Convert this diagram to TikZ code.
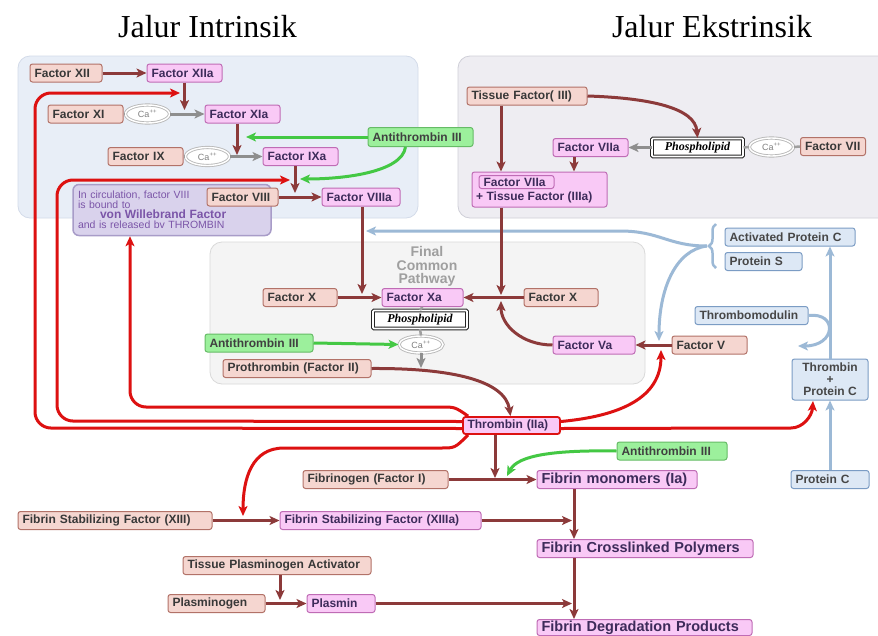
\documentclass[tikz,border=0pt]{standalone}
\usepackage{fontspec}
\setmainfont{Liberation Sans}
\newfontfamily\titlefont{Liberation Serif}
\usetikzlibrary{arrows.meta,shapes.geometric,decorations.pathreplacing,calc}
\definecolor{dred}{HTML}{8C3A3A}
\definecolor{inFill}{HTML}{F5D6D0}
\definecolor{inDraw}{HTML}{B27268}
\definecolor{acFill}{HTML}{F9C9F6}
\definecolor{acDraw}{HTML}{BF6CB5}
\definecolor{acText}{HTML}{3D2B5A}
\definecolor{rline}{HTML}{DD1111}
\definecolor{gline}{HTML}{44C844}
\definecolor{gFill}{HTML}{9CF09C}
\definecolor{gDraw}{HTML}{66BB66}
\definecolor{bline}{HTML}{9CB9D6}
\definecolor{bFill}{HTML}{DDE8F5}
\definecolor{bDraw}{HTML}{7B9CC4}
\definecolor{gyline}{HTML}{8E8E8E}
\definecolor{panA}{HTML}{E8EEF7}
\definecolor{panAd}{HTML}{D3DBE9}
\definecolor{panB}{HTML}{EEEDF2}
\definecolor{panBd}{HTML}{CFCFD8}
\definecolor{panC}{HTML}{F4F4F4}
\definecolor{panCd}{HTML}{D9D9D9}
\definecolor{vwfFill}{HTML}{D9D2EC}
\definecolor{vwfDraw}{HTML}{A89CC8}
\definecolor{vwfText}{HTML}{7B55A8}
\tikzset{
  bw/.code={\pgfmathsetmacro\bwtmp{#1-9}\edef\bwnext{\noexpand\pgfkeysalso{minimum width=#1pt,text width=\bwtmp pt}}\bwnext},
  box/.style={rounded corners=2.5pt, line width=1pt, inner xsep=4.5pt, inner ysep=1pt, minimum height=18pt, align=left,
    font=\fontsize{12}{13}\selectfont\bfseries, text=black!78},
  inact/.style={box, fill=inFill, draw=inDraw},
  act/.style={box, fill=acFill, draw=acDraw, text=acText},
  anti/.style={box, fill=gFill, draw=gDraw, text=black!75},
  prot/.style={box, fill=bFill, draw=bDraw, text=black!72},
  big/.style={font=\fontsize{14.5}{15}\selectfont\bfseries},
  ca/.style={ellipse, draw=gray!55, line width=0.9pt, double=white, double distance=1.4pt, fill=white,
    minimum width=44pt, minimum height=18pt, inner sep=0pt, font=\fontsize{9}{9}\selectfont, text=gray},
  phos/.style={draw=black!85, double=white, double distance=1.6pt, line width=1pt, fill=white, rounded corners=1pt,
    minimum height=18pt, inner sep=1pt, font=\titlefont\fontsize{12}{12}\selectfont\bfseries\itshape},
  tip/.style={-{Stealth[length=10pt,width=9pt,inset=2.5pt]}},
  da/.style={draw=dred, line width=3pt, tip},
  ra/.style={draw=rline, line width=3pt, tip, rounded corners=16pt},
  ga/.style={draw=gline, line width=3pt, tip},
  ba/.style={draw=bline, line width=3pt, tip},
  gya/.style={draw=gyline, line width=3pt, tip},
  gyl/.style={draw=gyline!85, line width=2.5pt},
}
\begin{document}
\begin{tikzpicture}[x=1pt,y=-1pt]
\useasboundingbox (0,0) rectangle (878,635);
\fill[white] (0,0) rectangle (878,635);
% panels
\draw[fill=panA, draw=panAd, line width=0.8pt, rounded corners=12pt] (18,56) rectangle (418,218);
\draw[fill=panB, draw=panBd, line width=0.8pt, rounded corners=12pt] (458,56) rectangle (892,218);
\draw[fill=panC, draw=panCd, line width=0.8pt, rounded corners=12pt] (210,242) rectangle (645,384);
% titles
\node[font=\titlefont\fontsize{32}{34}\selectfont] (t1) at (207.5,27) {Jalur Intrinsik};
\node[font=\titlefont\fontsize{32}{34}\selectfont] (t2) at (712,27) {Jalur Ekstrinsik};
\node[font=\fontsize{14}{13.5}\selectfont\bfseries, text=gray!75, align=center] (fcpt) at (427,266.5) {Final\\Common\\Pathway};
% intrinsic nodes
\node[inact, bw=72] (xii) at (66,73) {Factor XII};
\node[act, bw=75] (xiia) at (184.5,73) {Factor XIIa};
\node[inact, bw=75] (xi) at (85.5,114) {Factor XI};
\node[ca] (ca1) at (147.5,114) {Ca\textsuperscript{++}};
\node[act, bw=75] (xia) at (242.5,114) {Factor XIa};
\node[anti, bw=105, minimum height=19pt] (at3a) at (420.5,137) {Antithrombin III};
\node[inact, bw=75] (ix) at (145.5,156.5) {Factor IX};
\node[ca] (ca2) at (207.5,156.5) {Ca\textsuperscript{++}};
\node[act, bw=75] (ixa) at (300.5,156.5) {Factor IXa};
\node[rounded corners=6pt, fill=vwfFill, draw=vwfDraw, line width=1.5pt, text width=188pt, align=left,
  minimum height=51pt, inner xsep=5pt, inner ysep=2pt, font=\fontsize{10.5}{10}\selectfont, text=vwfText] (vwf) at (172,210)
  {In circulation, factor VIII\\is bound to\\\hspace*{22pt}{\fontsize{12}{13}\selectfont\bfseries von Willebrand Factor}\\and is released bv THROMBIN};
\node[inact, bw=71] (viii) at (242.5,197) {Factor VIII};
\node[act, bw=78] (viiia) at (361,197) {Factor VIIIa};
% extrinsic nodes
\node[inact, bw=120] (tf) at (527,96) {Tissue Factor( III)};
\node[phos, minimum width=91pt] (ph1) at (697.5,147.5) {Phospholipid};
\node[ca] (ca3) at (771.5,147) {Ca\textsuperscript{++}};
\node[inact, bw=65] (fvii) at (833,146.5) {Factor VII};
\node[act, bw=75] (viia) at (590.5,147.5) {Factor VIIa};
\node[act, minimum width=135pt, minimum height=35pt] (cx) at (539.5,189.5) {};
\node[act, bw=75, minimum height=13pt, inner ysep=0pt] (cxin) at (516.5,182) {Factor VIIa};
\node[font=\fontsize{12}{13}\selectfont\bfseries, text=acText, anchor=west, inner sep=0pt] (cxt) at (476,197.5) {+ Tissue Factor (IIIa)};
% protein C system
\node[prot, bw=130] (apc) at (790,237) {Activated Protein C};
\node[prot, bw=77] (ps) at (763.5,261.5) {Protein S};
\node[prot, bw=113] (tm) at (751.5,315.5) {Thrombomodulin};
\node[inact, bw=75] (fv) at (709.5,345) {Factor V};
\node[prot, minimum width=76pt, minimum height=41pt, align=center, font=\fontsize{12}{12}\selectfont\bfseries] (tpc) at (830,379.5) {Thrombin\\+\\Protein C};
\node[prot, bw=78] (pc) at (830,479.5) {Protein C};
% common pathway
\node[inact, bw=74] (fx1) at (300,297.5) {Factor X};
\node[act, bw=81] (fxa) at (422.5,297.5) {Factor Xa};
\node[inact, bw=74] (fx2) at (561,297.5) {Factor X};
\node[phos, minimum width=94pt] (ph2) at (420,319.5) {Phospholipid};
\node[ca, minimum height=17pt] (ca4) at (421,344.5) {Ca\textsuperscript{++}};
\node[anti, bw=108] (at3b) at (259,343) {Antithrombin III};
\node[act, bw=82] (fva) at (594,345) {Factor Va};
\node[inact, bw=148] (pro) at (297,368.5) {Prothrombin (Factor II)};
\node[act, bw=97, minimum height=17pt, draw=rline, line width=1.8pt] (thr) at (511.5,425.5) {Thrombin (IIa)};
% fibrin
\node[anti, bw=110] (at3c) at (672,451) {Antithrombin III};
\node[inact, bw=145] (fib) at (375.5,479.5) {Fibrinogen (Factor I)};
\node[act, bw=160, big] (fm) at (617,479.5) {Fibrin monomers (Ia)};
\node[inact, bw=194] (fsf) at (115,520.5) {Fibrin Stabilizing Factor (XIII)};
\node[act, bw=201] (fsfa) at (380.5,520.5) {Fibrin Stabilizing Factor (XIIIa)};
\node[act, bw=216, big] (fcl) at (645,548.5) {Fibrin Crosslinked Polymers};
\node[inact, bw=188] (tpa) at (277,565.5) {Tissue Plasminogen Activator};
\node[inact, bw=97] (plg) at (216.5,603.5) {Plasminogen};
\node[act, bw=68] (pla) at (341,603.5) {Plasmin};
\node[act, bw=215, big, minimum height=16pt, inner ysep=0pt] (fdp) at (644.5,627.5) {Fibrin Degradation Products};
% junction coordinates
\coordinate (jd2) at (184.5,110);
\coordinate (jd3) at (237,155);
\coordinate (jd4) at (295,193);
\coordinate (jd6) at (362,294);
\coordinate (jx2) at (501,295);
\coordinate (jd10) at (501,301);
\coordinate (jd16) at (495,478);
\coordinate (jd19) at (572,520.5);
\coordinate (jd22) at (280,600);
\coordinate (jd24) at (572,603.5);
\coordinate (jr1) at (180,93);
\coordinate (jr2) at (290,180);
\coordinate (jr4) at (243,516);
\coordinate (jr5) at (661,350);
\coordinate (jr6) at (813,401);
\coordinate (jg1) at (246,137);
\coordinate (jg2) at (300,179);
\coordinate (jg4) at (507,476);
\coordinate (jg5) at (421,368);
\coordinate (brtip) at (707,246);
\coordinate (jb1) at (366,231);
\coordinate (jb2) at (659,341);
\coordinate (jtm) at (798,346);
% blue lines
\draw[draw=bline, line width=2.5pt, decorate, decoration={brace, amplitude=7pt}] (716,268) -- (716,224);
\draw[ba] (brtip) .. controls (668,246) and (660,231) .. (620,231) -- (jb1);
\draw[ba] (brtip) .. controls (675,250) and (659,290) .. (jb2);
\draw[ba] (tm.east) .. controls (838,312) and (836,346) .. (jtm);
\draw[ba] (pc.north) -- (tpc.south);
\draw[ba] (tpc.north) -- (apc.south -| tpc.north);
% red lines
\draw[ra] ([yshift=-3pt]thr.west) -- (35,428) -- (35,93) -- (jr1);
\draw[ra] ([yshift=4pt]thr.west) -- (57,421) -- (57,180) -- (jr2);
\draw[ra] ([xshift=6pt]thr.north west) .. controls (455,407) .. (425,407) -- (130,407) -- ([xshift=-42pt]vwf.south);
\draw[ra] ([xshift=6pt]thr.south west) .. controls (455,448) .. (425,448) -- (300,448) .. controls (252,448) and (243,478) .. (jr4);
\draw[ra] ([yshift=4pt]thr.east) .. controls (620,416) and (661,398) .. (jr5);
\draw[ra] ([yshift=-3pt]thr.east) -- (775,428) .. controls (803,428) and (812,416) .. (jr6);
% green lines
\draw[ga] (at3a.west) -- (jg1);
\draw[ga] ([xshift=-15pt]at3a.south) .. controls (402,172) and (345,179) .. (jg2);
\draw[ga] (at3b.east) -- (ca4.west);
\draw[ga] (at3c.west) .. controls (555,450) and (518,455) .. (jg4);
% gray lines
\draw[gyl] (xi.east) -- (ca1.west);
\draw[gya] (ca1.east) -- (xia.west);
\draw[gyl] (ix.east) -- (ca2.west);
\draw[gya] (ca2.east) -- (ixa.west);
\draw[gyl] (fvii.west) -- (ca3.east);
\draw[gyl] (ca3.west) -- (ph1.east);
\draw[gya] (ph1.west) -- (viia.east);
\draw[gyl] (fxa.south) -- (ph2.north);
\draw[gyl] (ph2.south) -- (ca4.north);
\draw[gya] (ca4.south) -- (jg5);
% dark red lines
\draw[da] (xii.east) -- (xiia.west);
\draw[da] (xiia.south) -- (jd2);
\draw[da] ([xshift=-5.5pt]xia.south) -- (jd3);
\draw[da] ([xshift=-5.5pt]ixa.south) -- (jd4);
\draw[da] (viii.east) -- (viiia.west);
\draw[da] ([xshift=1pt]viiia.south) -- (jd6);
\draw[da] (fx1.east) -- (fxa.west);
\draw[da] (fx2.west) -- (fxa.east);
\draw[da] ([xshift=-26pt]tf.south) -- ([xshift=-38.5pt]cx.north);
\draw[da] ([xshift=-16.5pt]viia.south) -- ([xshift=34.5pt]cx.north);
\draw[da] (tf.east) .. controls (650,98) and (695,108) .. (ph1.north);
\draw[da] ([xshift=-38.5pt]cx.south) -- (jx2);
\draw[da] (fva.west) .. controls (522,345) and (501,325) .. (jd10);
\draw[da] (fv.west) -- (fva.east);
\draw[da] (pro.east) .. controls (450,368) and (505,380) .. ([xshift=-1pt]thr.north);
\draw[da] ([xshift=-16.5pt]thr.south) -- (jd16);
\draw[da] (fib.east) -- (fm.west);
\draw[da] (fsf.east) -- (fsfa.west);
\draw[da] (fsfa.east) -- (jd19);
\draw[da] ([xshift=-43pt]fm.south) -- ([xshift=-71pt]fcl.north);
\draw[da] ([xshift=-71pt]fcl.south) -- ([xshift=-70.5pt]fdp.north);
\draw[da] ([xshift=3pt]tpa.south) -- (jd22);
\draw[da] (plg.east) -- (pla.west);
\draw[da] (pla.east) -- (jd24);
\end{tikzpicture}
\end{document}
